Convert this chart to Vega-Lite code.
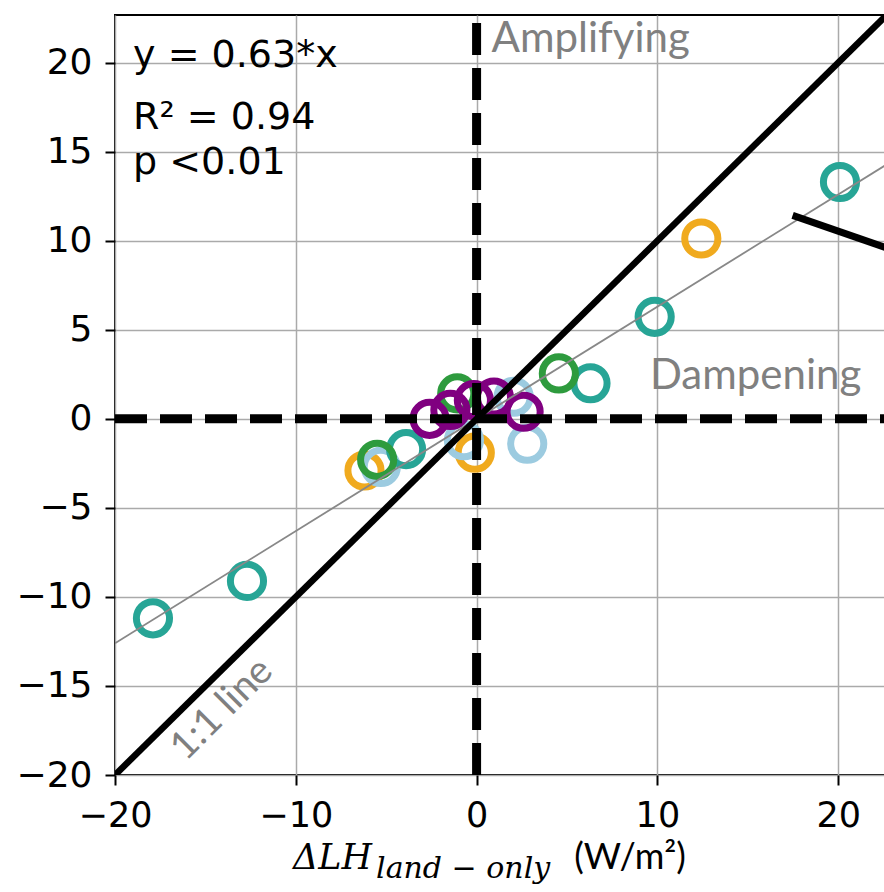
{
  "$schema": "https://vega.github.io/schema/vega-lite/v6.json",
  "width": 770,
  "height": 760,
  "autosize": "none",
  "padding": {"left": 115, "top": 15, "right": 0, "bottom": 117},
  "background": "white",
  "config": {
    "view": {"stroke": "black", "strokeWidth": 2},
    "axis": {
      "grid": true,
      "gridColor": "#aaaaaa",
      "gridWidth": 1.5,
      "domain": false,
      "tickColor": "black",
      "tickWidth": 2,
      "tickSize": 10,
      "labelFont": "DejaVu Sans",
      "labelFontSize": 36,
      "labelColor": "black",
      "labelOverlap": false,
      "labelBound": false,
      "labelFlush": false,
      "title": null
    }
  },
  "datasets": {
    "points": [
      {"x": 12.43, "y": 10.13, "group": "orange"},
      {"x": -0.1, "y": -1.9, "group": "orange"},
      {"x": -6.2, "y": -2.9, "group": "orange"},
      {"x": 2.8, "y": -1.4, "group": "lightblue"},
      {"x": -5.3, "y": -2.7, "group": "lightblue"},
      {"x": 2.05, "y": 1.24, "group": "lightblue"},
      {"x": -0.7, "y": -1.2, "group": "lightblue"},
      {"x": 20.1, "y": 13.3, "group": "teal"},
      {"x": 9.85, "y": 5.73, "group": "teal"},
      {"x": 6.3, "y": 2.0, "group": "teal"},
      {"x": -17.9, "y": -11.2, "group": "teal"},
      {"x": -12.7, "y": -9.1, "group": "teal"},
      {"x": -3.9, "y": -1.7, "group": "teal"},
      {"x": 4.55, "y": 2.55, "group": "green"},
      {"x": -1.07, "y": 1.43, "group": "green"},
      {"x": -5.5, "y": -2.3, "group": "green"},
      {"x": -2.6, "y": 0.0, "group": "purple"},
      {"x": -1.45, "y": 0.5, "group": "purple"},
      {"x": -0.15, "y": 1.05, "group": "purple"},
      {"x": 0.96, "y": 1.2, "group": "purple"},
      {"x": 2.6, "y": 0.4, "group": "purple"}
    ]
  },
  "layer": [
    {
      "data": {"name": "points"},
      "mark": {"type": "point", "shape": "circle", "filled": false, "size": 1100, "strokeWidth": 7, "opacity": 1},
      "encoding": {
        "x": {"field": "x", "type": "quantitative", "scale": {"domain": [-20, 22.59], "nice": false, "zero": false}, "axis": {"values": [-20, -10, 0, 10, 20], "labelPadding": 13, "labelFontSize": 35}},
        "y": {"field": "y", "type": "quantitative", "scale": {"domain": [-20, 22.68], "nice": false, "zero": false}, "axis": {"values": [-20, -15, -10, -5, 0, 5, 10, 15, 20], "labelPadding": 13}},
        "color": {"field": "group", "type": "nominal", "scale": {"domain": ["orange", "lightblue", "teal", "green", "purple"], "range": ["#f0aa1e", "#9ccbe0", "#27a596", "#2e9b3e", "#800080"]}, "legend": null}
      }
    },
    {
      "data": {"values": [{"x": -20, "y": -12.6, "x2": 22.59, "y2": 14.23}]},
      "mark": {"type": "rule", "color": "#888888", "strokeWidth": 1.8, "clip": true},
      "encoding": {
        "x": {"field": "x", "type": "quantitative"},
        "y": {"field": "y", "type": "quantitative"},
        "x2": {"field": "x2"},
        "y2": {"field": "y2"}
      }
    },
    {
      "data": {"values": [{"x": -20, "y": -20, "x2": 23, "y2": 23}]},
      "mark": {"type": "rule", "color": "black", "strokeWidth": 6.5, "clip": true},
      "encoding": {
        "x": {"field": "x", "type": "quantitative"},
        "y": {"field": "y", "type": "quantitative"},
        "x2": {"field": "x2"},
        "y2": {"field": "y2"}
      }
    },
    {
      "data": {"values": [{"x": -20, "y": 0, "x2": 22.59, "y2": 0}, {"x": 0, "y": -20, "x2": 0, "y2": 22.68}]},
      "mark": {"type": "rule", "color": "black", "strokeWidth": 9, "strokeDash": [32, 13], "clip": true},
      "encoding": {
        "x": {"field": "x", "type": "quantitative"},
        "y": {"field": "y", "type": "quantitative"},
        "x2": {"field": "x2"},
        "y2": {"field": "y2"}
      }
    },
    {
      "data": {"values": [{"x": 17.48, "y": 11.43, "x2": 24, "y2": 9.13}]},
      "mark": {"type": "rule", "color": "black", "strokeWidth": 7},
      "encoding": {
        "x": {"field": "x", "type": "quantitative"},
        "y": {"field": "y", "type": "quantitative"},
        "x2": {"field": "x2"},
        "y2": {"field": "y2"}
      }
    },
    {
      "data": {"values": [
        {"x": -19.0, "y": 19.75, "label": "y = 0.63*x"},
        {"x": -19.0, "y": 16.29, "label": "R² = 0.94"},
        {"x": -19.0, "y": 13.77, "label": "p <0.01"}
      ]},
      "mark": {"type": "text", "font": "DejaVu Sans", "fontSize": 38, "color": "black", "align": "left", "baseline": "alphabetic"},
      "encoding": {
        "x": {"field": "x", "type": "quantitative"},
        "y": {"field": "y", "type": "quantitative"},
        "text": {"field": "label"}
      }
    },
    {
      "data": {"values": [
        {"x": 0.83, "y": 20.59, "label": "Amplifying"},
        {"x": 9.59, "y": 1.7, "label": "Dampening"}
      ]},
      "mark": {"type": "text", "font": "Lato", "fontSize": 42, "color": "#808080", "align": "left", "baseline": "alphabetic"},
      "encoding": {
        "x": {"field": "x", "type": "quantitative"},
        "y": {"field": "y", "type": "quantitative"},
        "text": {"field": "label"}
      }
    },
    {
      "data": {"values": [{"x": -14.1, "y": -16.3, "label": "1:1 line"}]},
      "mark": {"type": "text", "font": "Lato", "fontSize": 39, "color": "#808080", "align": "center", "baseline": "middle", "angle": 315},
      "encoding": {
        "x": {"field": "x", "type": "quantitative"},
        "y": {"field": "y", "type": "quantitative"},
        "text": {"field": "label"}
      }
    },
    {
      "data": {"values": [{"x": -10.15, "y": -25.3, "label": "ΔLH"}]},
      "mark": {"type": "text", "font": "DejaVu Serif", "fontStyle": "italic", "fontSize": 35, "color": "black", "align": "left", "baseline": "alphabetic"},
      "encoding": {
        "x": {"field": "x", "type": "quantitative"},
        "y": {"field": "y", "type": "quantitative"},
        "text": {"field": "label"}
      }
    },
    {
      "data": {"values": [{"x": -5.56, "y": -25.3, "label": "land − only"}]},
      "mark": {"type": "text", "font": "DejaVu Serif", "fontStyle": "italic", "fontSize": 30, "color": "black", "align": "left", "baseline": "alphabetic", "dy": 9},
      "encoding": {
        "x": {"field": "x", "type": "quantitative"},
        "y": {"field": "y", "type": "quantitative"},
        "text": {"field": "label"}
      }
    },
    {
      "data": {"values": [{"x": 5.4, "y": -25.3, "label": "(W/m²)"}]},
      "mark": {"type": "text", "font": "Lato", "fontSize": 36, "color": "black", "align": "left", "baseline": "alphabetic"},
      "encoding": {
        "x": {"field": "x", "type": "quantitative"},
        "y": {"field": "y", "type": "quantitative"},
        "text": {"field": "label"}
      }
    }
  ]
}
